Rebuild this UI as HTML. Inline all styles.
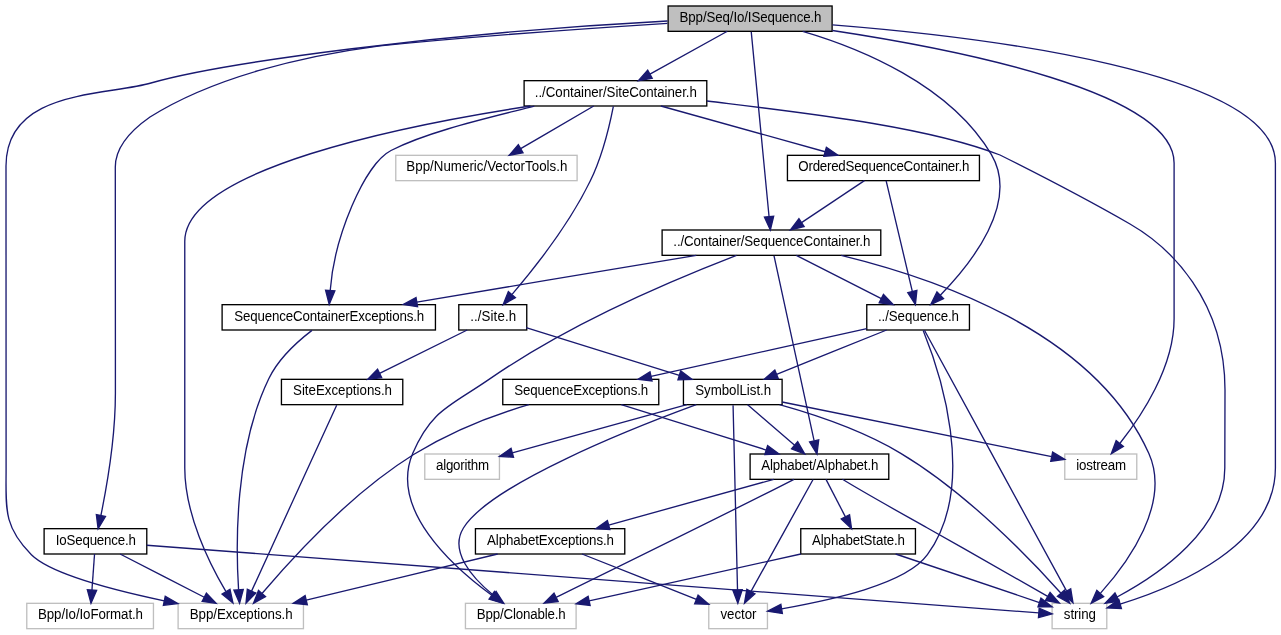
<!DOCTYPE html>
<html lang="en">
<head>
<meta charset="utf-8">
<title>Bpp/Seq/Io/ISequence.h include dependency graph</title>
<style>
html,body{margin:0;padding:0;background:#fff;}
body{width:1281px;height:635px;overflow:hidden;font-family:"Liberation Sans",sans-serif;}
svg{display:block;will-change:transform;}
</style>
</head>
<body>
<svg width="1281" height="635" viewBox="0 0 1281 635">
<rect x="0" y="0" width="1281" height="635" fill="#ffffff"/>
<g class="nodes" font-family="'Liberation Sans', sans-serif" font-size="13.3333" text-anchor="middle" stroke-width="1.3333">
<rect x="668.11" y="6" width="164" height="25.33" fill="#bfbfbf" stroke="#000000"/>
<text transform="translate(750.51,22) scale(1,1.06)" fill="#000000" stroke="none" textLength="142" lengthAdjust="spacing">Bpp/Seq/Io/ISequence.h</text>
<rect x="178.11" y="603.33" width="125.33" height="25.33" fill="#ffffff" stroke="#bfbfbf"/>
<text transform="translate(241.17,619.33) scale(1,1.06)" fill="#000000" stroke="none" textLength="103" lengthAdjust="spacing">Bpp/Exceptions.h</text>
<rect x="866.77" y="304.67" width="102.67" height="25.33" fill="#ffffff" stroke="#000000"/>
<text transform="translate(918.51,320.67) scale(1,1.06)" fill="#000000" stroke="none" textLength="81" lengthAdjust="spacing">../Sequence.h</text>
<rect x="1052.11" y="603.33" width="54.67" height="25.33" fill="#ffffff" stroke="#bfbfbf"/>
<text transform="translate(1079.84,619.33) scale(1,1.06)" fill="#000000" stroke="none" textLength="32" lengthAdjust="spacing">string</text>
<rect x="1064.77" y="454" width="72" height="25.33" fill="#ffffff" stroke="#bfbfbf"/>
<text transform="translate(1101.17,470) scale(1,1.06)" fill="#000000" stroke="none" textLength="50" lengthAdjust="spacing">iostream</text>
<rect x="44.11" y="528.67" width="102.67" height="25.33" fill="#ffffff" stroke="#000000"/>
<text transform="translate(95.84,544.67) scale(1,1.06)" fill="#000000" stroke="none" textLength="80" lengthAdjust="spacing">IoSequence.h</text>
<rect x="662.11" y="230" width="218.67" height="25.33" fill="#ffffff" stroke="#000000"/>
<text transform="translate(771.84,246) scale(1,1.06)" fill="#000000" stroke="none" textLength="197" lengthAdjust="spacing">../Container/SequenceContainer.h</text>
<rect x="524.11" y="80.67" width="182.67" height="25.33" fill="#ffffff" stroke="#000000"/>
<text transform="translate(615.84,96.67) scale(1,1.06)" fill="#000000" stroke="none" textLength="162" lengthAdjust="spacing">../Container/SiteContainer.h</text>
<rect x="683.44" y="379.33" width="98.67" height="25.33" fill="#ffffff" stroke="#000000"/>
<text transform="translate(733.17,395.33) scale(1,1.06)" fill="#000000" stroke="none" textLength="76" lengthAdjust="spacing">SymbolList.h</text>
<rect x="708.77" y="603.33" width="58.67" height="25.33" fill="#ffffff" stroke="#bfbfbf"/>
<text transform="translate(738.51,619.33) scale(1,1.06)" fill="#000000" stroke="none" textLength="36" lengthAdjust="spacing">vector</text>
<rect x="502.77" y="379.33" width="156" height="25.33" fill="#ffffff" stroke="#000000"/>
<text transform="translate(581.17,395.33) scale(1,1.06)" fill="#000000" stroke="none" textLength="134" lengthAdjust="spacing">SequenceExceptions.h</text>
<rect x="750.11" y="454" width="138.67" height="25.33" fill="#ffffff" stroke="#000000"/>
<text transform="translate(819.84,470) scale(1,1.06)" fill="#000000" stroke="none" textLength="117" lengthAdjust="spacing">Alphabet/Alphabet.h</text>
<rect x="465.44" y="603.33" width="110.67" height="25.33" fill="#ffffff" stroke="#bfbfbf"/>
<text transform="translate(521.17,619.33) scale(1,1.06)" fill="#000000" stroke="none" textLength="89" lengthAdjust="spacing">Bpp/Clonable.h</text>
<rect x="424.77" y="454" width="74.67" height="25.33" fill="#ffffff" stroke="#bfbfbf"/>
<text transform="translate(462.51,470) scale(1,1.06)" fill="#000000" stroke="none" textLength="53" lengthAdjust="spacing">algorithm</text>
<rect x="475.44" y="528.67" width="149.33" height="25.33" fill="#ffffff" stroke="#000000"/>
<text transform="translate(550.51,544.67) scale(1,1.06)" fill="#000000" stroke="none" textLength="127" lengthAdjust="spacing">AlphabetExceptions.h</text>
<rect x="800.77" y="528.67" width="114.67" height="25.33" fill="#ffffff" stroke="#000000"/>
<text transform="translate(858.51,544.67) scale(1,1.06)" fill="#000000" stroke="none" textLength="93" lengthAdjust="spacing">AlphabetState.h</text>
<rect x="26.77" y="603.33" width="126.67" height="25.33" fill="#ffffff" stroke="#bfbfbf"/>
<text transform="translate(90.51,619.33) scale(1,1.06)" fill="#000000" stroke="none" textLength="105" lengthAdjust="spacing">Bpp/Io/IoFormat.h</text>
<rect x="222.11" y="304.67" width="213.33" height="25.33" fill="#ffffff" stroke="#000000"/>
<text transform="translate(329.17,320.67) scale(1,1.06)" fill="#000000" stroke="none" textLength="190" lengthAdjust="spacing">SequenceContainerExceptions.h</text>
<rect x="458.79" y="304.67" width="67.97" height="25.33" fill="#ffffff" stroke="#000000"/>
<text transform="translate(493.17,320.67) scale(1,1.06)" fill="#000000" stroke="none" textLength="46" lengthAdjust="spacing">../Site.h</text>
<rect x="787.44" y="155.33" width="192" height="25.33" fill="#ffffff" stroke="#000000"/>
<text transform="translate(883.84,171.33) scale(1,1.06)" fill="#000000" stroke="none" textLength="171" lengthAdjust="spacing">OrderedSequenceContainer.h</text>
<rect x="395.77" y="155.33" width="181.33" height="25.33" fill="#ffffff" stroke="#bfbfbf"/>
<text transform="translate(486.84,171.33) scale(1,1.06)" fill="#000000" stroke="none" textLength="161" lengthAdjust="spacing">Bpp/Numeric/VectorTools.h</text>
<rect x="281.44" y="379.33" width="121.33" height="25.33" fill="#ffffff" stroke="#000000"/>
<text transform="translate(342.51,395.33) scale(1,1.06)" fill="#000000" stroke="none" textLength="99" lengthAdjust="spacing">SiteExceptions.h</text>
</g>
<g class="edges" fill="none" stroke="#191970" stroke-width="1.3333">
<path d="M667.5,21 C440,33 220,63 151,83 105,96.3 6,89 6,166 6.1,300 6.1,400 6.1,468 6.1,508.1 3,526.4 31.4,554.7 50.5,573.6 112.7,589.9 164.3,600.8"/>
<polygon fill="#191970" points="163.36,605.37 177.9,603.6 165.24,596.23"/>
<path d="M802.7,31.3 C858,47.5 950.03,84.12 991.44,154.67 1019.72,202.81 971.05,263.77 940.32,295.19"/>
<polygon fill="#191970" points="943.49,298.61 930.72,304.65 936.95,291.96"/>
<path d="M832.5,24.8 C985,37 1275.4,72 1275.4,163 1275.4,250 1275.4,350 1275.4,468 1275.4,544.9 1177.5,586.4 1120.1,604.1"/>
<polygon fill="#191970" points="1118.79,599.62 1107.1,607.9 1121.41,608.58"/>
<path d="M832.4,30.5 C958,49.5 1174.1,92 1174.1,163 1174.1,220 1174.1,270 1174.1,318.7 1174.1,367.2 1141.5,416.2 1119.8,443.5"/>
<polygon fill="#191970" points="1116.2,440.53 1111.3,453.8 1123.4,446.47"/>
<path d="M667.5,23.3 C570,29.5 470,36.8 380,45.8 300,56.2 212,78 150,117 134,128.2 115.3,145 115.3,167 115.4,250 115.4,320 115.4,393.3 115.4,436.7 106.8,486.5 100.9,515.5"/>
<polygon fill="#191970" points="96.33,514.53 98.1,528.7 105.47,516.47"/>
<path d="M751.25,31.89 C754.61,66.73 764.48,169.05 769.05,216.56"/>
<polygon fill="#191970" points="773.71,216.19 770.35,229.91 764.43,217.08"/>
<path d="M727.26,31.33 C701.49,45.62 675.72,59.91 649.95,74.2"/>
<polygon fill="#191970" points="647.68,70.12 638.29,80.67 652.21,78.28"/>
<path d="M886.67,330 C849.97,344.78 813.28,359.57 776.58,374.35"/>
<polygon fill="#191970" points="774.84,370.02 764.21,379.33 778.32,378.68"/>
<path d="M924.44,330.27 C948.37,374.19 1033.73,530.8 1066.51,590.92"/>
<polygon fill="#191970" points="1070.71,588.88 1072.99,602.83 1062.51,593.35"/>
<path d="M923.2,330.4 C938.3,367.6 979,484.2 927.4,554.7 905.3,585 830,600 781.6,608.9"/>
<polygon fill="#191970" points="780.84,604.29 767.6,611.2 782.36,613.51"/>
<path d="M866.77,328.7 C794.85,344.61 722.94,360.53 651.02,376.45"/>
<polygon fill="#191970" points="650.01,371.9 638,379.33 652.03,381.01"/>
<path d="M747.48,404.67 C763.2,418.21 778.92,431.75 794.64,445.3"/>
<polygon fill="#191970" points="791.59,448.83 804.74,454 797.68,441.76"/>
<path d="M779.49,404.71 C814.47,414.44 862.63,430.53 900.77,453.33 966.85,492.83 1030.33,559 1060.75,593.03"/>
<polygon fill="#191970" points="1064.44,590.15 1069.76,603.24 1057.44,596.32"/>
<path d="M733.07,405.23 C733.91,440.07 736.37,542.39 737.52,589.89"/>
<polygon fill="#191970" points="742.19,589.8 737.84,603.24 732.85,590.03"/>
<path d="M696.3,404.7 C632,428.3 490.45,484.31 463.44,528 448.99,551.39 472.08,577.65 493.12,595.08"/>
<polygon fill="#191970" points="496.07,591.45 503.73,603.32 490.33,598.83"/>
<path d="M686.86,404.67 C628.67,420.72 570.48,436.77 512.29,452.82"/>
<polygon fill="#191970" points="511.05,448.32 499.44,456.37 513.53,457.32"/>
<path d="M782.11,402.01 C871.97,420.24 961.84,438.48 1051.71,456.71"/>
<polygon fill="#191970" points="1050.78,461.28 1064.77,459.36 1052.63,452.14"/>
<path d="M842.5,479.3 C861.96,491.45 897.16,510.96 927.44,528 969.09,551.44 1016.96,578.8 1047.67,596.41"/>
<polygon fill="#191970" points="1050.08,592.41 1059.32,603.09 1045.44,600.51"/>
<path d="M813.07,479.51 C799.76,503.49 768.84,559.27 751.15,591.16"/>
<polygon fill="#191970" points="755.01,593.81 744.47,603.21 746.85,589.29"/>
<path d="M773.75,479.33 C718.71,494.59 663.68,509.85 608.65,525.1"/>
<polygon fill="#191970" points="607.4,520.61 595.8,528.67 609.89,529.6"/>
<path d="M826,479.33 C832.47,491.83 838.94,504.33 845.42,516.83"/>
<polygon fill="#191970" points="841.27,518.97 851.55,528.67 849.56,514.68"/>
<path d="M794,479.3 C743.88,505.11 618.09,566.88 556.28,597.24"/>
<polygon fill="#191970" points="558.13,601.52 544.11,603.21 554.01,593.15"/>
<path d="M497.63,554 C433.82,569.4 370.02,584.8 306.21,600.2"/>
<polygon fill="#191970" points="305.12,595.67 293.25,603.33 307.31,604.74"/>
<path d="M582,554 C620.13,569.14 658.25,584.29 696.38,599.43"/>
<polygon fill="#191970" points="694.66,603.77 708.77,604.35 698.1,595.09"/>
<path d="M895.65,554 C943.59,570.17 991.53,586.34 1039.47,602.52"/>
<polygon fill="#191970" points="1037.98,606.94 1052.11,606.78 1040.96,598.1"/>
<path d="M800.88,554 C730.3,569.62 659.71,585.25 589.12,600.87"/>
<polygon fill="#191970" points="588.12,596.31 576.11,603.75 590.13,605.43"/>
<path d="M528.8,404.7 C495,414.5 451.5,431.3 414,454.3 351,493.5 291,559.5 262,593.5"/>
<polygon fill="#191970" points="258.47,590.44 253.5,603.3 265.53,596.56"/>
<path d="M621.26,404.67 C669.58,419.78 717.91,434.9 766.23,450.02"/>
<polygon fill="#191970" points="764.83,454.47 778.95,454 767.62,445.56"/>
<path d="M120.09,554 C148.15,568.41 176.2,582.83 204.26,597.24"/>
<polygon fill="#191970" points="202.13,601.39 216.12,603.33 206.39,593.09"/>
<path d="M146.77,545.23 C444.12,567.79 741.47,590.35 1038.81,612.92"/>
<polygon fill="#191970" points="1038.46,617.57 1052.11,613.93 1039.17,608.26"/>
<path d="M94.54,554 C93.68,566.01 92.82,578.02 91.96,590.03"/>
<polygon fill="#191970" points="87.31,589.7 91.01,603.33 96.62,590.37"/>
<path d="M796.32,255.33 C824.66,269.76 853,284.19 881.34,298.62"/>
<polygon fill="#191970" points="879.23,302.78 893.23,304.67 883.46,294.46"/>
<path d="M774.03,255.89 C781.59,290.73 803.77,393.05 814.08,440.56"/>
<polygon fill="#191970" points="818.71,439.89 816.97,453.91 809.59,441.87"/>
<path d="M841.2,255.3 C930,277 1093.08,329.29 1148.77,453.33 1171.13,503.12 1128.32,562.17 1100.55,593.17"/>
<polygon fill="#191970" points="1103.65,596.69 1091.15,603.27 1096.83,590.33"/>
<path d="M736.5,255.3 C683,276 573.28,320.89 490.11,378.67 450.88,405.92 431.45,409.36 412.77,453.33 389.04,509.24 452.24,566.39 491.75,595.32"/>
<polygon fill="#191970" points="494.45,591.52 502.64,603.04 489.07,599.15"/>
<path d="M696.3,255.4 C620,268 500,288 416.8,302.2"/>
<polygon fill="#191970" points="416.02,297.6 403.3,304.5 417.58,306.8"/>
<path d="M311.96,330.36 C297.88,341.15 278.56,358.52 268.77,378.67 234.63,449.07 235.71,544.67 238.56,589.51"/>
<polygon fill="#191970" points="243.24,589.48 239.59,603.12 233.93,590.17"/>
<path d="M530.36,106.01 C404.85,125.17 184.77,169.07 184.77,241.33 184.77,241.33 184.77,241.33 184.77,468 184.77,514.12 209.24,563.35 225.83,591.43"/>
<polygon fill="#191970" points="229.99,589.28 232.99,603.08 222.04,594.16"/>
<path d="M707,101 C805,113 925,126 1000,155 1045,177.5 1090,201 1130,224 1170,247 1225,300 1225,390 1224.8,420 1224.8,445 1224.8,468 1224.8,529.2 1160.2,574 1117.1,597"/>
<polygon fill="#191970" points="1114.96,592.85 1105.1,603.2 1119.24,601.15"/>
<path d="M534.3,106.2 C486,118.5 428,131.5 391,150.5 364,164.5 334,238 330.2,290.5"/>
<polygon fill="#191970" points="325.55,290.16 329.2,304.3 334.85,290.84"/>
<path d="M613.35,106.35 C610,123.44 602.52,155.99 590.11,181.33 568.89,224.69 533.81,268.92 512.07,294.35"/>
<polygon fill="#191970" points="515.39,297.64 503.12,304.63 508.35,291.51"/>
<path d="M660.9,106 C715.65,121.25 770.39,136.5 825.13,151.75"/>
<polygon fill="#191970" points="823.88,156.25 837.98,155.33 826.38,147.26"/>
<path d="M593.73,106 C569.37,120.21 545.02,134.41 520.67,148.62"/>
<polygon fill="#191970" points="518.32,144.58 509.15,155.33 523.02,152.65"/>
<path d="M526.11,327.7 C577.18,343.59 628.25,359.48 679.33,375.37"/>
<polygon fill="#191970" points="677.94,379.83 692.06,379.33 680.71,370.92"/>
<path d="M467.21,330 C438.01,344.47 408.81,358.94 379.61,373.41"/>
<polygon fill="#191970" points="377.54,369.23 367.67,379.33 381.68,377.59"/>
<path d="M336.67,405.23 C320.57,440.37 273.05,544.16 251.56,591.12"/>
<polygon fill="#191970" points="255.8,593.07 246.01,603.24 247.32,589.17"/>
<path d="M886.16,180.84 C891.76,204.51 904.67,259.11 912.25,291.2"/>
<polygon fill="#191970" points="916.88,290.49 915.4,304.55 907.8,292.64"/>
<path d="M864.44,180.67 C843.47,194.65 822.5,208.63 801.53,222.6"/>
<polygon fill="#191970" points="798.94,218.72 790.44,230 804.12,226.49"/>
</g>
</svg>
</body>
</html>
